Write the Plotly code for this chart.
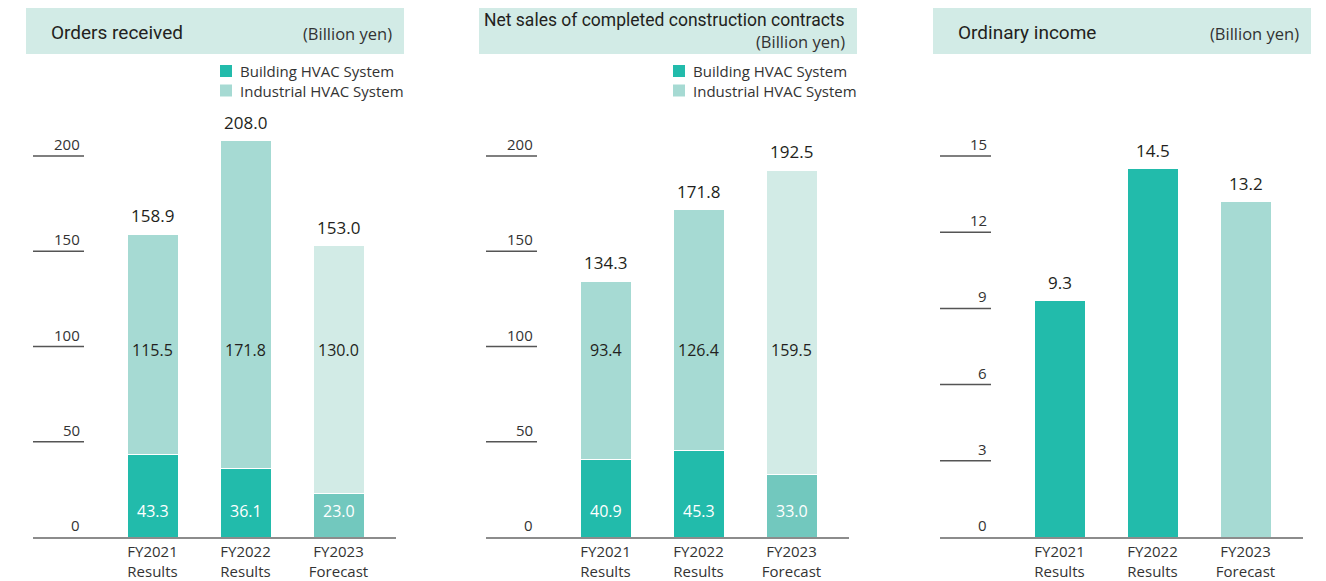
import plotly.graph_objects as go

# ---------------- data ----------------
categories = ["FY2021<br>Results", "FY2022<br>Results", "FY2023<br>Forecast"]

orders_building = [43.3, 36.1, 23.0]
orders_industrial = [115.5, 171.8, 130.0]
orders_total = [158.9, 208.0, 153.0]

sales_building = [40.9, 45.3, 33.0]
sales_industrial = [93.4, 126.4, 159.5]
sales_total = [134.3, 171.8, 192.5]

income_values = [9.3, 14.5, 13.2]

ticks_12 = [50, 100, 150, 200]
ticks_3 = [3, 6, 9, 12, 15]

panel_titles = ["Orders received", "Net sales of completed construction contracts", "Ordinary income"]
unit_label = "(Billion yen)"
legend_labels = ["Building HVAC System", "Industrial HVAC System"]

# ---------------- style ----------------
PAGE_MARGIN = 8  # default body margin of the page
W, H = 1326 - PAGE_MARGIN, 581 - PAGE_MARGIN
TEAL = "#22BBAB"
TEAL_FC = "#72C8BE"
MINT = "#A6DAD3"
MINT_FC = "#D2EBE6"
HEADER_BG = "#D2EBE6"
TXT = "#231F20"
TICK_TXT = "#333333"
BODY_FONT = "Open Sans, Noto Sans, sans-serif"
TITLE_FONT = "Roboto, Open Sans, sans-serif"

def px(x):
    return (x - PAGE_MARGIN) / W

def py(y):
    return 1 - (y - PAGE_MARGIN) / H

offsets = [0, 453, 907]
PX_PER_UNIT_X = 93.0
Y_BOTTOM, Y_TOP = 537, 100
xr = [(33 - 152.5) / PX_PER_UNIT_X, (396 - 152.5) / PX_PER_UNIT_X]
scale_12 = 381 / 200.0
scale_3 = 381 / 15.0
yranges = [[0, (Y_BOTTOM - Y_TOP) / scale_12], [0, (Y_BOTTOM - Y_TOP) / scale_12],
           [0, (Y_BOTTOM - Y_TOP) / scale_3]]

xpos = [0, 1, 2]
BAR_W = 51 / PX_PER_UNIT_X

fig = go.Figure()

def stacked(idx, building, industrial):
    xa = "x" if idx == 0 else f"x{idx+1}"
    ya = "y" if idx == 0 else f"y{idx+1}"
    fig.add_trace(go.Bar(x=xpos, y=building, width=BAR_W, xaxis=xa, yaxis=ya,
                         marker=dict(color=[TEAL, TEAL, TEAL_FC], line=dict(color="white", width=1)),
                         showlegend=False, hoverinfo="y"))
    fig.add_trace(go.Bar(x=xpos, y=industrial, width=BAR_W, xaxis=xa, yaxis=ya,
                         marker=dict(color=[MINT, MINT, MINT_FC], line=dict(color="white", width=1)),
                         showlegend=False, hoverinfo="y"))

stacked(0, orders_building, orders_industrial)
stacked(1, sales_building, sales_industrial)
fig.add_trace(go.Bar(x=xpos, y=income_values, width=BAR_W, xaxis="x3", yaxis="y3",
                     marker=dict(color=[TEAL, TEAL, MINT], line=dict(color="white", width=1)),
                     showlegend=False, hoverinfo="y"))

layout = dict(width=W, height=H, margin=dict(l=0, r=0, t=0, b=0, autoexpand=False),
              paper_bgcolor="white", plot_bgcolor="rgba(0,0,0,0)",
              barmode="stack", font=dict(family=BODY_FONT, color=TXT), showlegend=False)

for i, off in enumerate(offsets):
    sfx = "" if i == 0 else str(i + 1)
    layout["xaxis" + sfx] = dict(domain=[px(33 + off), px(396 + off)], range=xr,
                                 anchor="y" + sfx, tickvals=xpos, ticktext=categories,
                                 showgrid=False, zeroline=False, showline=True,
                                 linecolor="#8C8C8C", linewidth=2, ticks="",
                                 tickfont=dict(family=BODY_FONT, size=15, color=TICK_TXT),
                                 automargin=False, fixedrange=True)
    layout["yaxis" + sfx] = dict(domain=[py(Y_BOTTOM), py(Y_TOP)], range=yranges[i],
                                 anchor="x" + sfx, showgrid=False, zeroline=False,
                                 showline=False, showticklabels=False, ticks="",
                                 automargin=False, fixedrange=True)
fig.update_layout(**layout)

shapes = []
annotations = []

for i, off in enumerate(offsets):
    ya = "y" if i == 0 else f"y{i+1}"
    # header box
    shapes.append(dict(type="rect", xref="paper", yref="paper",
                       x0=px(26 + off), x1=px(404 + off), y0=py(54), y1=py(5),
                       fillcolor=HEADER_BG, line=dict(width=0), layer="below"))
    # y ticks
    tvals = ticks_3 if i == 2 else ticks_12
    for v in tvals:
        shapes.append(dict(type="line", xref="paper", yref=ya, x0=px(33 + off), x1=px(84 + off),
                           y0=v, y1=v, line=dict(color="#555555", width=1.5)))
    for v in [0] + tvals:
        annotations.append(dict(xref="paper", yref=ya, x=px(82 + off), y=v, text=str(v),
                                showarrow=False, xanchor="right", yanchor="bottom", yshift=0,
                                font=dict(family=BODY_FONT, size=15, color=TICK_TXT)))

# header texts
annotations.append(dict(xref="paper", yref="paper", x=px(49), y=py(32), text=panel_titles[0],
                        showarrow=False, xanchor="left", yanchor="middle",
                        font=dict(family=TITLE_FONT, size=19, color=TXT)))
annotations.append(dict(xref="paper", yref="paper", x=px(394), y=py(33), text=unit_label,
                        showarrow=False, xanchor="right", yanchor="middle",
                        font=dict(family=BODY_FONT, size=16.5, color=TICK_TXT)))
annotations.append(dict(xref="paper", yref="paper", x=px(847), y=py(20), text=panel_titles[1],
                        showarrow=False, xanchor="right", yanchor="middle",
                        font=dict(family=TITLE_FONT, size=17.5, color=TXT)))
annotations.append(dict(xref="paper", yref="paper", x=px(847), y=py(42), text=unit_label,
                        showarrow=False, xanchor="right", yanchor="middle",
                        font=dict(family=BODY_FONT, size=16.5, color=TICK_TXT)))
annotations.append(dict(xref="paper", yref="paper", x=px(956), y=py(32), text=panel_titles[2],
                        showarrow=False, xanchor="left", yanchor="middle",
                        font=dict(family=TITLE_FONT, size=19, color=TXT)))
annotations.append(dict(xref="paper", yref="paper", x=px(1301), y=py(33), text=unit_label,
                        showarrow=False, xanchor="right", yanchor="middle",
                        font=dict(family=BODY_FONT, size=16.5, color=TICK_TXT)))

# legends (panels 1 and 2)
for off in offsets[:2]:
    for j, (lab, col) in enumerate(zip(legend_labels, [TEAL, MINT])):
        yc = 71 + j * 19.5
        shapes.append(dict(type="rect", xref="paper", yref="paper",
                           x0=px(220 + off), x1=px(232 + off), y0=py(yc + 6), y1=py(yc - 6),
                           fillcolor=col, line=dict(width=0)))
        annotations.append(dict(xref="paper", yref="paper", x=px(238 + off), y=py(yc), text=lab,
                                showarrow=False, xanchor="left", yanchor="middle",
                                font=dict(family=BODY_FONT, size=15, color=TICK_TXT)))

# value labels
def value_labels(ya, building, industrial, totals):
    xa = "x" if ya == "y" else "x" + ya[1:]
    for k in range(3):
        annotations.append(dict(xref=xa, yref=ya, x=xpos[k], y=totals[k],
                                text=f"{totals[k]:.1f}", showarrow=False, yanchor="bottom", yshift=5,
                                font=dict(family=BODY_FONT, size=17, color=TXT)))
        if industrial is not None:
            annotations.append(dict(xref=xa, yref=ya, x=xpos[k], y=98,
                                    text=f"{industrial[k]:.1f}", showarrow=False, yanchor="middle",
                                    font=dict(family=BODY_FONT, size=16, color=TXT)))
            annotations.append(dict(xref=xa, yref=ya, x=xpos[k], y=13.5,
                                    text=f"{building[k]:.1f}", showarrow=False, yanchor="middle",
                                    font=dict(family=BODY_FONT, size=16, color="white")))

value_labels("y", orders_building, orders_industrial, orders_total)
value_labels("y2", sales_building, sales_industrial, sales_total)
value_labels("y3", None, None, income_values)

fig.update_layout(shapes=shapes, annotations=annotations)
fig.write_html("out.html")
